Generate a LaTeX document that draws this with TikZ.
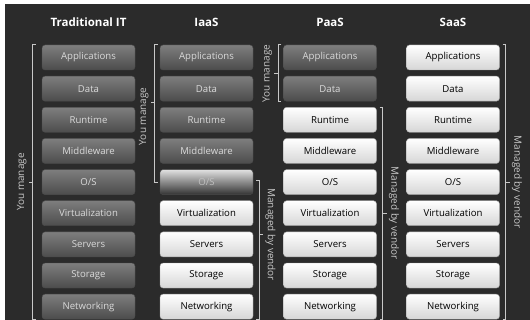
\documentclass[tikz,border=0pt]{standalone}
\usepackage{fontspec}
\setmainfont{Open Sans}
\usetikzlibrary{positioning}
\definecolor{bgdark}{HTML}{2B2B2B}
\definecolor{darktop}{HTML}{7E7E7E}
\definecolor{darkbot}{HTML}{4C4C4C}
\definecolor{darktext}{HTML}{DADADA}
\definecolor{lightbot}{HTML}{D6D6D6}
\definecolor{bracketgray}{HTML}{C8C8C8}
\begin{document}
\begin{tikzpicture}[x=1pt, y=-1pt,
darkbox/.style={rectangle, rounded corners=3pt, draw=black!70, top color=darktop, bottom color=darkbot, text=darktext, font=\fontsize{9.6}{11}\selectfont, minimum width=93pt, minimum height=25pt, inner sep=0pt},
lightbox/.style={rectangle, rounded corners=3pt, draw=black!40, top color=white, bottom color=lightbot, text=black, font=\fontsize{9.6}{11}\selectfont, minimum width=93pt, minimum height=25pt, inner sep=0pt},
fadebox/.style={darkbox, top color=black!12, bottom color=black!80, text=black!25},
header/.style={text=white, font=\bfseries\fontsize{11.5}{13}\selectfont},
bracket/.style={draw=bracketgray, line width=0.8pt},
sidelabel/.style={text=bracketgray, font=\fontsize{10}{12}\selectfont, inner sep=2pt},
]
    \useasboundingbox (0,0) rectangle (530,320);
    \fill[white] (0,0) rectangle (530,320);
    \fill[bgdark] (5,4) rectangle (530,320);

    % headers
    \node[header] (htrad) at (88.5,22) {Traditional IT};
    \node[header] (hiaas) at (206.5,22) {IaaS};
    \node[header] (hpaas) at (330,22) {PaaS};
    \node[header] (hsaas) at (453,22) {SaaS};

    % Traditional IT
    \node[darkbox] (tapp) at (88.5,57.5) {Applications};
    \node[darkbox] (tdata) [below=5.75pt of tapp] {Data};
    \node[darkbox] (trun) [below=5.75pt of tdata] {Runtime};
    \node[darkbox] (tmid) [below=5.75pt of trun] {Middleware};
    \node[darkbox] (tos) [below=5.75pt of tmid] {O/S};
    \node[darkbox] (tvirt) [below=5.75pt of tos] {Virtualization};
    \node[darkbox] (tserv) [below=5.75pt of tvirt] {Servers};
    \node[darkbox] (tstor) [below=5.75pt of tserv] {Storage};
    \node[darkbox] (tnet) [below=5.75pt of tstor] {Networking};

    % IaaS
    \node[darkbox] (iapp) at (206.5,57.5) {Applications};
    \node[darkbox] (idata) [below=5.75pt of iapp] {Data};
    \node[darkbox] (irun) [below=5.75pt of idata] {Runtime};
    \node[darkbox] (imid) [below=5.75pt of irun] {Middleware};
    \node[fadebox] (ios) [below=5.75pt of imid] {O/S};
    \node[lightbox] (ivirt) [below=5.75pt of ios] {Virtualization};
    \node[lightbox] (iserv) [below=5.75pt of ivirt] {Servers};
    \node[lightbox] (istor) [below=5.75pt of iserv] {Storage};
    \node[lightbox] (inet) [below=5.75pt of istor] {Networking};

    % PaaS
    \node[darkbox] (papp) at (330,57.5) {Applications};
    \node[darkbox] (pdata) [below=5.75pt of papp] {Data};
    \node[lightbox] (prun) [below=5.75pt of pdata] {Runtime};
    \node[lightbox] (pmid) [below=5.75pt of prun] {Middleware};
    \node[lightbox] (pos) [below=5.75pt of pmid] {O/S};
    \node[lightbox] (pvirt) [below=5.75pt of pos] {Virtualization};
    \node[lightbox] (pserv) [below=5.75pt of pvirt] {Servers};
    \node[lightbox] (pstor) [below=5.75pt of pserv] {Storage};
    \node[lightbox] (pnet) [below=5.75pt of pstor] {Networking};

    % SaaS
    \node[lightbox] (sapp) at (453,57.5) {Applications};
    \node[lightbox] (sdata) [below=5.75pt of sapp] {Data};
    \node[lightbox] (srun) [below=5.75pt of sdata] {Runtime};
    \node[lightbox] (smid) [below=5.75pt of srun] {Middleware};
    \node[lightbox] (sos) [below=5.75pt of smid] {O/S};
    \node[lightbox] (svirt) [below=5.75pt of sos] {Virtualization};
    \node[lightbox] (sserv) [below=5.75pt of svirt] {Servers};
    \node[lightbox] (sstor) [below=5.75pt of sserv] {Storage};
    \node[lightbox] (snet) [below=5.75pt of sstor] {Networking};

    % brackets
    \draw[bracket] ([xshift=-6pt]tapp.north west) -- ++(-3,0) |- ([xshift=-6pt]tnet.south west);
    \draw[bracket] ([xshift=-9pt]tos.west) -- ++(-4,0) coordinate (ttick);
    \node[sidelabel, rotate=90, anchor=south] (tyou) at (ttick) {You manage};

    \draw[bracket] ([xshift=-2pt]iapp.north west) -- ++(-3,0) |- ([xshift=-2pt]ios.west);
    \draw[bracket] ([xshift=-5pt,yshift=-1pt]idata.south west) -- ++(-4,0) coordinate (iytick);
    \node[sidelabel, rotate=90, anchor=south] (iyou) at ([yshift=-14pt]iytick) {You manage};

    \draw[bracket] ([xshift=3pt,yshift=1.5pt]ios.east) -- ++(3,0) |- ([xshift=3pt]inet.south east);
    \draw[bracket] ([xshift=6pt,yshift=-3pt]iserv.north east) -- ++(4,0) coordinate (ivtick);
    \node[sidelabel, rotate=-90, anchor=south] (ivend) at (ivtick) {Managed by vendor};

    \draw[bracket] ([xshift=-2pt]papp.north west) -- ++(-3,0) |- ([xshift=-2pt]pdata.south west);
    \draw[bracket] ([xshift=-5pt,yshift=2.5pt]pdata.north west) -- ++(-4,0) coordinate (pytick);
    \node[sidelabel, rotate=90, anchor=south] (pyou) at (pytick) {You manage};

    \draw[bracket] ([xshift=3pt]prun.north east) -- ++(3,0) |- ([xshift=3pt]pnet.south east);
    \draw[bracket] ([xshift=6pt]pvirt.east) -- ++(4,0) coordinate (pvtick);
    \node[sidelabel, rotate=-90, anchor=south] (pvend) at (pvtick) {Managed by vendor};

    \draw[bracket] ([xshift=3pt]sapp.north east) -- ++(3,0) |- ([xshift=3pt]snet.south east);
    \draw[bracket] ([xshift=6pt]sos.east) -- ++(4,0) coordinate (svtick);
    \node[sidelabel, rotate=-90, anchor=south] (svend) at (svtick) {Managed by vendor};
\end{tikzpicture}
\end{document}
